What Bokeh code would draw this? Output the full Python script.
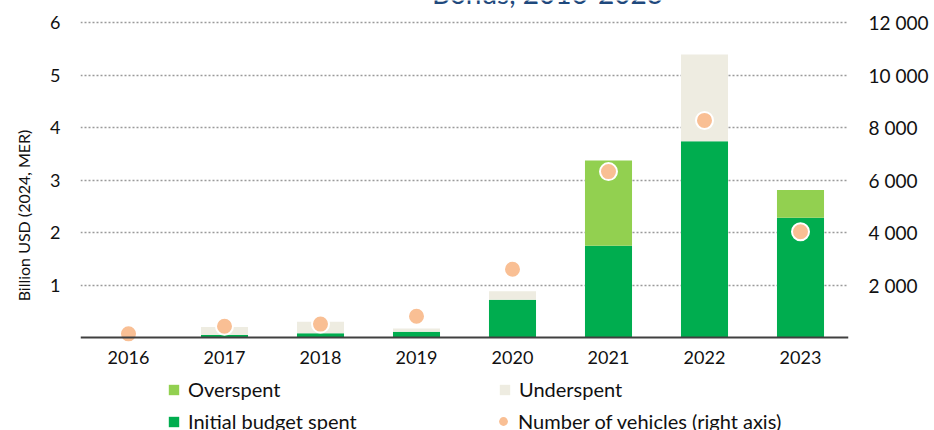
from bokeh.plotting import figure
from bokeh.models import (Range1d, FactorRange, LinearAxis, FixedTicker, CustomJSTickFormatter,
                          ColumnDataSource, Legend, LegendItem, Label, Span)
from bokeh.core.properties import value
from bokeh.embed import file_html
from bokeh.resources import INLINE

years = ["2016", "2017", "2018", "2019", "2020", "2021", "2022", "2023"]
initial_budget_spent = [0.0, 0.05, 0.08, 0.11, 0.72, 1.75, 3.74, 2.28]
overspent = [0.0, 0.0, 0.0, 0.0, 0.0, 1.62, 0.0, 0.53]
underspent = [0.0, 0.15, 0.22, 0.06, 0.16, 0.0, 1.65, 0.0]
vehicles = [140, 430, 510, 810, 2600, 6320, 8270, 4030]
left_ticks = [1, 2, 3, 4, 5, 6]
right_ticks = [2000, 4000, 6000, 8000, 10000, 12000]

FONT = "Lato"
TXT = "#111111"

src = ColumnDataSource(dict(year=years, initial=initial_budget_spent, over=overspent,
                            under=underspent, veh=vehicles, zero=[0] * len(years)))

W, H = 934, 430
TOP, BASE = 22, 337
ppu = (BASE - TOP) / 6.0
ymin = -(H - BASE) / ppu
ymax = 6 + TOP / ppu

p = figure(width=W, height=H, x_range=FactorRange(*years, range_padding=0),
           y_range=Range1d(ymin, ymax), output_backend="svg", toolbar_location=None,
           min_border_left=80, min_border_right=86, min_border_top=0, min_border_bottom=0,
           outline_line_color=None, background_fill_color=None, border_fill_color="white")
p.extra_y_ranges = {"veh": Range1d(ymin * 2000, ymax * 2000)}
p.xaxis.visible = False

stack = p.vbar_stack(["initial", "over", "under"], x="year", width=0.49, source=src,
                     color=["#00ad4f", "#92d050", "#eeece1"], line_color=None)

# baseline (category axis line) and year labels
p.add_layout(Span(location=0, dimension="width", line_color="#404040", line_width=2))
p.text(x="year", y="zero", text="year", source=src, text_font=value(FONT),
       text_font_size="18px", text_color=TXT, text_align="center", text_baseline="middle",
       y_offset=20)

dots = p.scatter(x="year", y="veh", source=src, y_range_name="veh", size=17,
                 fill_color="#f9bf94", line_color="white", line_width=2)
# legend-only marker (no visible data point)
legend_dot = p.scatter(x=[years[0]], y=[float("nan")], size=9,
                       fill_color="#f9bf94", line_color=None)

# axes
p.yaxis.ticker = FixedTicker(ticks=left_ticks)
p.yaxis.axis_label = "Billion USD (2024, MER)"
ax_r = LinearAxis(y_range_name="veh", ticker=FixedTicker(ticks=right_ticks),
                  formatter=CustomJSTickFormatter(code="return tick.toString().replace(/\\B(?=(\\d{3})+(?!\\d))/g, ' ');"))
p.add_layout(ax_r, "right")
for ax in [p.yaxis[0], ax_r]:
    ax.axis_line_color = None
    ax.major_tick_line_color = None
    ax.minor_tick_line_color = None
    ax.major_label_text_font = FONT
    ax.major_label_text_font_size = "18px"
    ax.major_label_text_color = TXT
    ax.major_label_standoff = 14
ax_r.major_label_text_font_size = "19px"
p.yaxis[0].axis_label_text_font = FONT
p.yaxis[0].axis_label_text_font_size = "16px"
p.yaxis[0].axis_label_text_font_style = "normal"
p.yaxis[0].axis_label_text_color = TXT
p.yaxis[0].axis_label_standoff = 14

p.xgrid.grid_line_color = None
p.ygrid.grid_line_color = "#9a9a9a"
p.ygrid.grid_line_dash = "2 2"
p.ygrid.grid_line_width = 1.5

common = dict(padding=0, margin=0, spacing=8, label_height=22,
              label_text_font=FONT, label_text_font_size="20px", label_text_color=TXT,
              border_line_color=None, background_fill_alpha=0)
legend = Legend(items=[
    LegendItem(label="Overspent", renderers=[stack[1]]),
    LegendItem(label="Initial budget spent", renderers=[stack[0]]),
    LegendItem(label="Underspent", renderers=[stack[2]]),
], location=(87, -3), ncols=2, glyph_width=13, glyph_height=13, label_standoff=8,
    label_width=302, **common)
p.add_layout(legend, "center")
legend2 = Legend(items=[
    LegendItem(label="Number of vehicles (right axis)", renderers=[legend_dot]),
], location=(412, -3), glyph_width=22, glyph_height=22, label_standoff=4, **common)
p.add_layout(legend2, "center")

title = Label(x=467, y=H + 8, x_units="screen", y_units="screen", text="Bonus, 2016-2023",
              text_align="center", text_baseline="alphabetic", text_font=FONT, text_font_size="28px",
              text_color="#1f497d")
p.add_layout(title)

open("out.html", "w").write(file_html(p, INLINE))
